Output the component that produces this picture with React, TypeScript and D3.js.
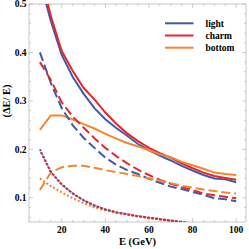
import React from "react";
import * as d3 from "d3";

const energies = [10, 15, 20, 25, 30, 35, 40, 45, 50, 55, 60, 65, 70, 75, 80, 85, 90, 95, 100];

const lightSolid = [0.55, 0.465, 0.395, 0.35, 0.315, 0.285, 0.262, 0.244, 0.228, 0.211, 0.198, 0.187, 0.177, 0.166, 0.156, 0.147, 0.14, 0.138, 0.132];
const charmSolid = [0.57, 0.475, 0.403, 0.362, 0.327, 0.303, 0.276, 0.253, 0.233, 0.217, 0.203, 0.192, 0.183, 0.171, 0.161, 0.152, 0.145, 0.141, 0.137];
const bottomSolid = [0.24, 0.27, 0.27, 0.262, 0.252, 0.243, 0.232, 0.222, 0.213, 0.206, 0.198, 0.19, 0.184, 0.174, 0.167, 0.16, 0.152, 0.149, 0.147];

const lightDashed = [0.4, 0.337, 0.285, 0.25, 0.224, 0.203, 0.183, 0.168, 0.157, 0.149, 0.139, 0.131, 0.123, 0.118, 0.112, 0.106, 0.099, 0.097, 0.093];
const charmDashed = [0.38, 0.343, 0.297, 0.268, 0.245, 0.223, 0.203, 0.186, 0.171, 0.158, 0.147, 0.137, 0.129, 0.122, 0.116, 0.109, 0.105, 0.102, 0.099];
const bottomDashed = [0.116, 0.152, 0.163, 0.166, 0.166, 0.162, 0.157, 0.153, 0.149, 0.145, 0.14, 0.135, 0.13, 0.125, 0.121, 0.117, 0.114, 0.111, 0.109];

const lightDotted = [0.2, 0.154, 0.128, 0.109, 0.095, 0.084, 0.076, 0.07, 0.066, 0.062, 0.059, 0.056, 0.053, 0.05, 0.047, 0.045, 0.043, 0.041, 0.039];
const charmDotted = [0.198, 0.153, 0.127, 0.109, 0.095, 0.084, 0.076, 0.07, 0.066, 0.062, 0.059, 0.056, 0.053, 0.05, 0.047, 0.045, 0.043, 0.041, 0.039];
const bottomDotted = [0.14, 0.124, 0.111, 0.099, 0.089, 0.08, 0.074, 0.069, 0.065, 0.061, 0.058, 0.055, 0.052, 0.049, 0.046, 0.044, 0.042, 0.04, 0.038];

const xTicks = [20, 40, 60, 80, 100];
const yTicks = [0.1, 0.2, 0.3, 0.4, 0.5];
const legendLabels = ["light", "charm", "bottom"];

const BLUE = "#3f5aa8";
const RED = "#e8252b";
const ORANGE = "#f5862d";
const colors = [BLUE, RED, ORANGE];

const W = 249, H = 249;
const L = 29, R = 246, T = 4, B = 222;

export default function App() {
  const x = d3.scaleLinear().domain([5, 104.5]).range([L, R]);
  const y = d3.scaleLinear().domain([0.05, 0.5]).range([B, T]);
  const line = (vals: number[]) =>
    d3.line<number>().x((_, i) => x(energies[i])).y((d) => y(d))(vals) || "";

  const series = [
    { v: lightSolid, c: BLUE, dash: undefined },
    { v: charmSolid, c: RED, dash: undefined },
    { v: bottomSolid, c: ORANGE, dash: undefined },
    { v: lightDashed, c: BLUE, dash: "9,4" },
    { v: charmDashed, c: RED, dash: "9,4" },
    { v: bottomDashed, c: ORANGE, dash: "9,4" },
    { v: bottomDotted, c: ORANGE, dash: "2,2" },
    { v: lightDotted, c: BLUE, dash: "2,2" },
    { v: charmDotted, c: RED, dash: "2,2", offset: 2 },
  ];

  const xMinor = d3.range(5, 105, 5);
  const yMinor = d3.range(0.06, 0.5001, 0.02);
  const frame = "#b8b8b8";
  const font = "'Liberation Serif', 'Times New Roman', serif";

  return (
    <svg width={W} height={H} style={{ position: "absolute", left: 0, top: 0, background: "#fff" }}>
      <defs>
        <clipPath id="plot">
          <rect x={L} y={T} width={R - L} height={B - T} />
        </clipPath>
      </defs>
      <rect x={0} y={0} width={W} height={H} fill="#fff" />
      {/* frame */}
      <rect x={L} y={T} width={R - L} height={B - T} fill="none" stroke={frame} strokeWidth={0.8} />
      {xMinor.map((t) => {
        const major = xTicks.includes(t);
        const len = major ? 4 : 2;
        return (
          <g key={"xt" + t}>
            <line x1={x(t)} x2={x(t)} y1={B} y2={B - len} stroke={frame} strokeWidth={0.7} />
            <line x1={x(t)} x2={x(t)} y1={T} y2={T + len} stroke={frame} strokeWidth={0.7} />
          </g>
        );
      })}
      {yMinor.map((t) => {
        const major = yTicks.some((m) => Math.abs(m - t) < 1e-6);
        const len = major ? 4 : 2;
        return (
          <g key={"yt" + t.toFixed(2)}>
            <line x1={L} x2={L + len} y1={y(t)} y2={y(t)} stroke={frame} strokeWidth={0.7} />
            <line x1={R} x2={R - len} y1={y(t)} y2={y(t)} stroke={frame} strokeWidth={0.7} />
          </g>
        );
      })}
      <g clipPath="url(#plot)">
        {series.map((s, i) => (
          <path
            key={i}
            d={line(s.v)}
            fill="none"
            stroke={s.c}
            strokeWidth={2}
            strokeDasharray={s.dash}
            strokeDashoffset={(s as any).offset || 0}
          />
        ))}
      </g>
      {xTicks.map((t) => (
        <text key={"xl" + t} x={x(t)} y={232.5} textAnchor="middle" fontFamily={font} fontWeight="bold" fontSize={9.5}>
          {t}
        </text>
      ))}
      {yTicks.map((t) => (
        <text key={"yl" + t} x={26.5} y={y(t) + 3.3} textAnchor="end" fontFamily={font} fontWeight="bold" fontSize={9.5}>
          {t.toFixed(1)}
        </text>
      ))}
      <text x={(L + R) / 2} y={245} textAnchor="middle" fontFamily={font} fontWeight="bold" fontSize={10.5}>
        E (GeV)
      </text>
      <text
        transform={`translate(10,101) rotate(-90)`}
        textAnchor="middle"
        fontFamily={font}
        fontWeight="bold"
        fontSize={10.5}
      >
        (ΔE/ E)
      </text>
      {legendLabels.map((lab, i) => {
        const ly = 23.3 + i * 12.2;
        return (
          <g key={lab}>
            <line x1={165} x2={193.5} y1={ly} y2={ly} stroke={colors[i]} strokeWidth={2} />
            <text x={205.5} y={ly + 3.2} fontFamily={font} fontWeight="bold" fontSize={9.5}>
              {lab}
            </text>
          </g>
        );
      })}
    </svg>
  );
}
